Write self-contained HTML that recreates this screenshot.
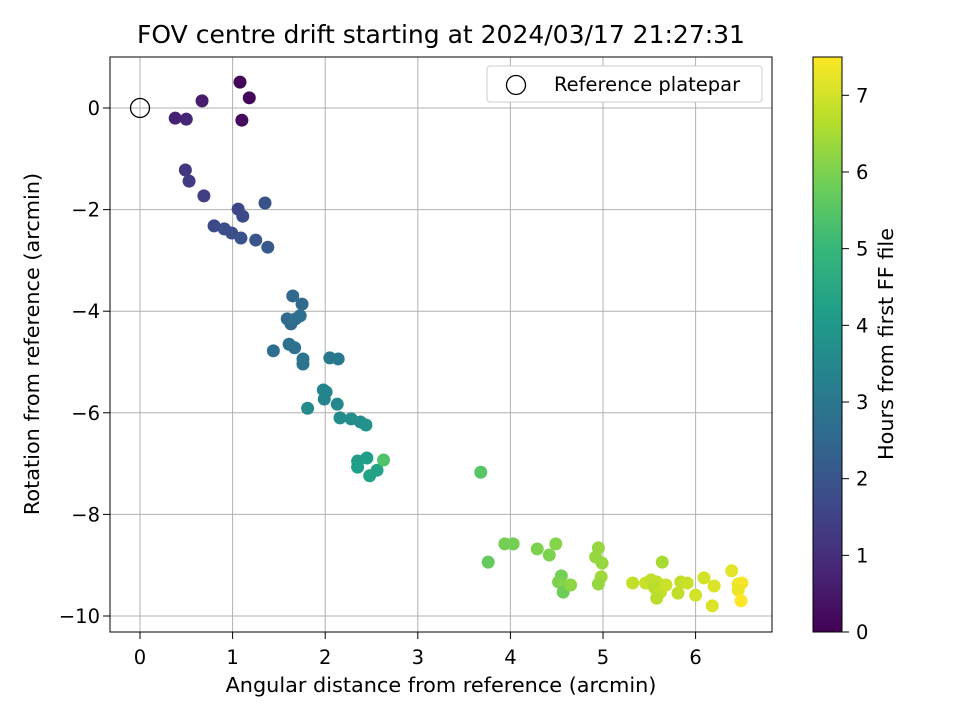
<!DOCTYPE html>
<html><head><meta charset="utf-8"><style>
html,body{margin:0;padding:0;background:#fff;}
svg text{font-family:"DejaVu Sans","Liberation Sans",sans-serif;fill:#000;}
</style></head><body>
<svg id="chart" width="960" height="720" xmlns="http://www.w3.org/2000/svg">
<text x="441" y="43" font-size="25" text-anchor="middle">FOV centre drift starting at 2024/03/17 21:27:31</text>
<g id="grid"></g>
<g id="pts"></g>
<rect x="110" y="57" width="662" height="575" fill="none" stroke="#000" stroke-width="1"/>
<g id="ticks"></g>
<text x="441" y="692" font-size="20.8" text-anchor="middle">Angular distance from reference (arcmin)</text>
<text transform="translate(39,344) rotate(-90)" font-size="20.8" text-anchor="middle">Rotation from reference (arcmin)</text>
<g>
<rect x="487" y="66" width="275" height="36" rx="3" fill="#fff" stroke="#ccc"/>
<circle cx="516" cy="85" r="9.5" fill="none" stroke="#000" stroke-width="1.3"/>
<text x="554" y="91" font-size="19.5">Reference platepar</text>
</g>
<defs><linearGradient id="vir" x1="0" y1="1" x2="0" y2="0"></linearGradient></defs>
<rect x="813" y="57" width="29" height="575" fill="url(#vir)" stroke="#000" stroke-width="1"/>
<g id="cbticks"></g>
<text transform="translate(893,344) rotate(-90)" font-size="20.8" text-anchor="middle">Hours from first FF file</text>
</svg>
<script>
const xs=[1.08,1.18,1.10,0.67,0.38,0.50,0.49,0.53,0.69,1.06,1.11,1.35,0.80,0.91,0.99,1.09,1.25,1.38,1.65,1.75,1.59,1.63,1.68,1.73,1.44,1.61,1.67,1.76,1.76,2.05,2.14,1.98,2.01,1.99,2.13,1.81,2.16,2.28,2.38,2.44,2.35,2.35,2.45,2.56,2.48,2.63,3.68,3.76,3.94,4.03,4.29,4.42,4.49,4.55,4.52,4.58,4.57,4.65,4.95,4.92,4.99,4.98,4.95,5.32,5.46,5.52,5.58,5.56,5.62,5.58,5.68,5.64,5.81,5.84,5.91,6.0,6.09,6.2,6.18,6.39,6.46,6.5,6.46,6.49];
const ys=[0.51,0.2,-0.24,0.14,-0.2,-0.22,-1.22,-1.44,-1.73,-1.99,-2.13,-1.87,-2.32,-2.38,-2.46,-2.56,-2.6,-2.74,-3.70,-3.86,-4.15,-4.25,-4.15,-4.09,-4.78,-4.65,-4.72,-4.94,-5.04,-4.92,-4.94,-5.55,-5.59,-5.73,-5.83,-5.91,-6.10,-6.12,-6.18,-6.24,-6.95,-7.07,-6.89,-7.13,-7.24,-6.93,-7.17,-8.94,-8.58,-8.58,-8.68,-8.80,-8.58,-9.21,-9.33,-9.41,-9.53,-9.39,-8.66,-8.84,-8.96,-9.23,-9.37,-9.35,-9.35,-9.29,-9.33,-9.45,-9.53,-9.65,-9.39,-8.94,-9.55,-9.33,-9.35,-9.59,-9.25,-9.41,-9.80,-9.11,-9.37,-9.35,-9.49,-9.70];
const hours=[0.1,0.1,0.2,0.6,0.7,0.8,1.2,1.3,1.4,1.6,1.7,1.9,1.7,1.8,1.8,1.9,2.0,2.1,2.5,2.6,2.6,2.6,2.7,2.7,2.7,2.8,2.8,2.9,2.9,3.0,3.0,3.4,3.4,3.4,3.5,3.6,3.6,3.7,3.7,3.8,4.1,4.2,4.2,4.3,4.3,5.4,5.5,5.7,5.9,5.9,6.0,6.0,6.1,5.9,6.0,6.1,5.8,6.2,6.3,6.3,6.3,6.4,6.3,6.8,6.9,6.8,6.8,6.7,6.8,6.7,6.9,6.5,6.8,6.8,6.9,7.0,7.0,7.1,7.1,7.2,7.3,7.4,7.3,7.5];
const xTicks=[0,1,2,3,4,5,6];
const yTicks=[0,-2,-4,-6,-8,-10];
const cTicks=[0,1,2,3,4,5,6,7];
const NS="http://www.w3.org/2000/svg";
const X=v=>140+v*92.6, Y=v=>108-v*50.8, C=v=>632-v*76.67;
const vstops=["#440154","#482878","#3e4989","#31688e","#26828e","#1f9e89","#35b779","#6ece58","#b5de2b","#fde725"];
function hex(h){return [1,3,5].map(i=>parseInt(h.substr(i,2),16));}
function vir(t){t=Math.max(0,Math.min(1,t));const p=t*9,i=Math.min(8,Math.floor(p)),f=p-i;const a=hex(vstops[i]),b=hex(vstops[i+1]);return "rgb("+a.map((v,k)=>Math.round(v+(b[k]-v)*f)).join(",")+")";}
function mk(tag,at,parent){const e=document.createElementNS(NS,tag);for(const k in at)e.setAttribute(k,at[k]);parent.appendChild(e);return e;}
const grid=document.getElementById('grid'),ticks=document.getElementById('ticks'),pts=document.getElementById('pts'),cb=document.getElementById('cbticks');
const fmt=v=>v<0?"\u2212"+(-v):String(v);
xTicks.forEach(v=>{const x=X(v);
 const l=mk('line',{x1:x,x2:x,y1:57,y2:632,stroke:'#b0b0b0','stroke-width':1},grid);
 mk('line',{x1:x,x2:x,y1:632,y2:639,stroke:'#000'},ticks);
 const t=mk('text',{x:x,y:664,'font-size':19.5,'text-anchor':'middle'},ticks);t.textContent=fmt(v);});
yTicks.forEach(v=>{const y=Y(v);
 const l=mk('line',{x1:110,x2:772,y1:y,y2:y,stroke:'#b0b0b0','stroke-width':1},grid);
 mk('line',{x1:103,x2:110,y1:y,y2:y,stroke:'#000'},ticks);
 const t=mk('text',{x:100,y:y+7,'font-size':19.5,'text-anchor':'end'},ticks);t.textContent=fmt(v);});
xs.forEach((v,i)=>{const c=mk('circle',{cx:X(v),cy:Y(ys[i]),r:6.5,fill:vir(hours[i]/7.5)},pts);
 });
const ref=mk('circle',{cx:X(0),cy:Y(0),r:9.5,fill:'none',stroke:'#000','stroke-width':1.3},pts);

const g=document.getElementById('vir');
vstops.forEach((s,i)=>mk('stop',{offset:(i/9*100)+'%','stop-color':s},g));
cTicks.forEach(v=>{const y=C(v);mk('line',{x1:842,x2:849,y1:y,y2:y,stroke:'#000'},cb);
 const t=mk('text',{x:856,y:y+7,'font-size':19.5},cb);t.textContent=v;});
</script>
</body></html>
